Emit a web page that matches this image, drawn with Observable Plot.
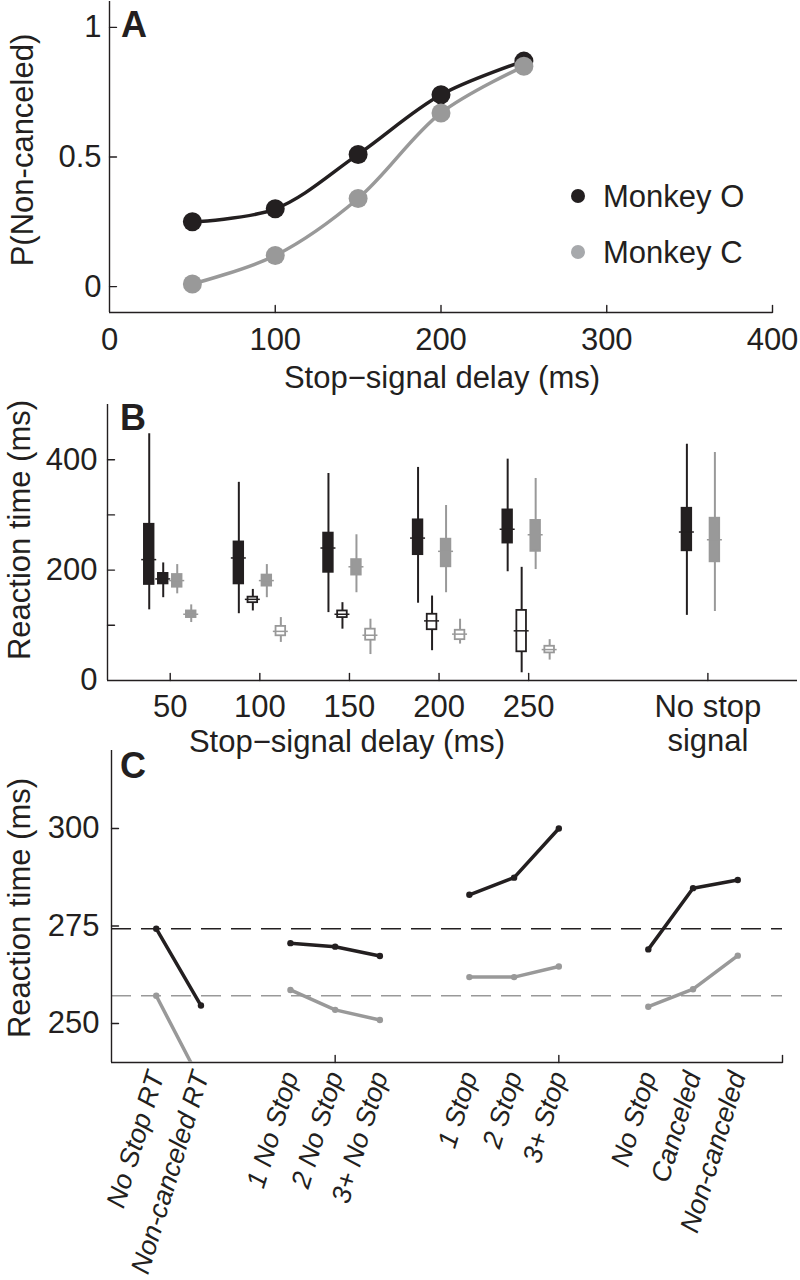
<!DOCTYPE html>
<html><head><meta charset="utf-8">
<script src="https://cdn.jsdelivr.net/npm/d3@7"></script>
<script src="https://cdn.jsdelivr.net/npm/@observablehq/plot@0.6"></script>
<style>
body{margin:0;background:#fff;}
#fig{position:relative;width:800px;height:1280px;overflow:hidden;font-family:"Liberation Sans",Arial,Helvetica,sans-serif;color:#231f20;background:#fff;}
#fig svg{position:absolute;left:0;overflow:visible;}
.lbl{position:absolute;white-space:nowrap;font-size:31px;line-height:1;transform:translate(-50%,-50%);}
.rot{transform:translate(-50%,-50%) rotate(-90deg);}
.letter{font-weight:bold;font-size:36px;}
.leg{position:absolute;font-size:31px;line-height:1;white-space:nowrap;transform:translateY(-50%);}
.legdot{position:absolute;width:14px;height:14px;border-radius:50%;transform:translate(-50%,-50%);}
</style></head><body><div id="fig"></div>
<script>
// ---------------- Panel A data ----------------
const ssdA = [50, 100, 150, 200, 250];
const pNonCanceledO = [0.25, 0.30, 0.51, 0.74, 0.87];
const pNonCanceledC = [0.01, 0.12, 0.34, 0.67, 0.85];
const monkeys = ["Monkey O", "Monkey C"];
const xTicksA = [0, 100, 200, 300, 400];
const yTicksA = [0, 0.5, 1];

// ---------------- Panel B data ----------------
const groupsB = ["50", "100", "150", "200", "250", "", "No stop\nsignal"]; // "" = empty slot
// [low whisker, q1, median, q3, high whisker] in ms (null = no box)
const rtO_1 = [[128,174,219,283,447],[121,175,222,251,359],[123,196,240,267,375],[140,228,258,291,386],[197,249,274,309,401],null,[118,235,269,312,428]];
const rtO_2 = [[150,175,184,194,213],[126,141,147,151,165],[93,114,120,126,141],[54,92,108,120,153],[14,52,90,127,205],null,null];
const rtC_1 = [[157,169,181,192,210],[150,171,181,191,210],[159,191,206,219,264],[159,206,234,256,317],[201,234,264,290,366],null,[125,215,255,294,413]];
const rtC_2 = [[105,114,120,126,137],[69,81,89,98,114],[47,73,82,93,111],[66,74,84,91,111],[37,50,56,62,74],null,null];
const solidGroupsB = ["50"];
const yTicksB = [100, 200, 300, 400];
const yTickLabelsB = [0, 200, 400];

// ---------------- Panel C data ----------------
const groupsC = [
  ["No Stop RT", "Non-canceled RT"],
  ["1 No Stop", "2 No Stop", "3+ No Stop"],
  ["1 Stop", "2 Stop", "3+ Stop"],
  ["No Stop", "Canceled", "Non-canceled"]
];
const rtMonkeyO = [[274.3, 254.6], [270.6, 269.7, 267.3], [283.0, 287.4, 300.0], [269.0, 284.7, 286.8]];
const rtMonkeyC = [[257.1, 235.0], [258.6, 253.5, 250.9], [261.9, 261.9, 264.6], [254.3, 258.8, 267.4]];
const baselineO = 274.3;
const baselineC = 257.1;
const yTicksC = [250, 275, 300];
const xTicksC = [5, 10, 15];

// ---------------- styling ----------------
const ink = "#231f20";
const grey = "#999999";
const FONT = '"Liberation Sans", Arial, Helvetica, sans-serif';
const fig = document.getElementById("fig");
const tickShape = {draw(ctx, l) { ctx.moveTo(0, 0); ctx.lineTo(0, -l); }};
const inwardX = (t) => Plot.vector(t, {x: d => d, frameAnchor: "bottom", rotate: 0, length: 7, anchor: "start", shape: tickShape, stroke: ink, strokeWidth: 1.4});
const inwardY = (t) => Plot.vector(t, {y: d => d, frameAnchor: "left", rotate: 90, length: 7, anchor: "start", shape: tickShape, stroke: ink, strokeWidth: 1.4});
const baseStyle = {fontFamily: FONT, fontSize: "31px", color: ink, background: "transparent", overflow: "visible"};

function place(svg, top) { svg.style.top = top + "px"; fig.appendChild(svg); }
function label(text, x, y, cls = "") {
  const d = document.createElement("div");
  d.className = "lbl " + cls; d.textContent = text;
  d.style.left = x + "px"; d.style.top = y + "px";
  fig.appendChild(d);
}

// ---------------- Panel A ----------------
const rowsA = ssdA.flatMap((s, i) => [
  {ssd: s, p: pNonCanceledO[i], monkey: monkeys[0]},
  {ssd: s, p: pNonCanceledC[i], monkey: monkeys[1]}
]);
const xDomA = [0, 400], yDomA = [-0.1, 1.1];
const plotA = Plot.plot({
  width: 800, height: 400, marginLeft: 109, marginRight: 28, marginTop: 1, marginBottom: 88,
  style: baseStyle,
  x: {domain: xDomA}, y: {domain: yDomA},
  color: {domain: monkeys, range: [ink, grey]},
  marks: [
    Plot.ruleX([xDomA[0]], {stroke: ink, strokeWidth: 1.4}),
    Plot.ruleY([yDomA[0]], {stroke: ink, strokeWidth: 1.4}),
    Plot.axisX({ticks: xTicksA, tickSize: 0, tickPadding: 15, tickFormat: d => String(d), label: null}),
    Plot.axisY({ticks: yTicksA, tickSize: 0, tickPadding: 8, tickFormat: d => String(d), label: null}),
    inwardX(xTicksA.filter(d => d > xDomA[0])),
    inwardY(yTicksA),
    Plot.line(rowsA, {x: "ssd", y: "p", z: "monkey", stroke: "monkey", strokeWidth: 3.5, curve: "catmull-rom"}),
    Plot.dot(rowsA, {x: "ssd", y: "p", fill: "monkey", r: 9.5})
  ]
});
place(plotA, 0);

// ---------------- Panel B ----------------
function boxRows(stats, alwaysSolid) {
  return stats.map((s, i) => s && {
    pos: i + 1, group: groupsB[i], lo: s[0], q1: s[1], med: s[2], q3: s[3], hi: s[4],
    solid: alwaysSolid || solidGroupsB.includes(groupsB[i])
  }).filter(Boolean);
}
function boxMarks(rows, color, dx) {
  return [
    Plot.ruleX(rows, {x: "pos", y1: "lo", y2: "hi", dx, stroke: color, strokeWidth: 2}),
    Plot.rect(rows, {x1: "pos", x2: "pos", y1: "q1", y2: "q3", dx, insetLeft: -4.8, insetRight: -4.8,
      fill: d => d.solid ? color : "white", stroke: color, strokeWidth: 1.8}),
    Plot.ruleY(rows, {y: "med", x1: "pos", x2: "pos", dx, insetLeft: -7.5, insetRight: -7.5, stroke: color, strokeWidth: 1.5})
  ];
}
const tickPosB = groupsB.map((g, i) => g ? i + 1 : null).filter(d => d !== null);
const xDomB = [0.3, 8], yDomB = [0, 500];
const plotB = Plot.plot({
  width: 800, height: 385, marginLeft: 107, marginRight: 3, marginTop: 9, marginBottom: 100,
  style: baseStyle,
  x: {domain: xDomB}, y: {domain: yDomB},
  marks: [
    Plot.ruleX([xDomB[0]], {stroke: ink, strokeWidth: 1.4}),
    Plot.ruleY([yDomB[0]], {stroke: ink, strokeWidth: 1.4}),
    Plot.axisX({ticks: tickPosB, tickSize: 0, tickPadding: 13, tickFormat: p => groupsB[p - 1], lineHeight: 1.08, label: null}),
    Plot.axisY({ticks: yTickLabelsB, tickSize: 0, tickPadding: 10, tickFormat: d => String(d), label: null}),
    inwardX(tickPosB),
    inwardY(yTicksB),
    ...boxMarks(boxRows(rtO_1, true), ink, -21),
    ...boxMarks(boxRows(rtO_2, false), ink, -7),
    ...boxMarks(boxRows(rtC_1, true), grey, 7),
    ...boxMarks(boxRows(rtC_2, false), grey, 21)
  ]
});
place(plotB, 395);

// ---------------- Panel C ----------------
const rowsC = [];
const labelAtC = new Map();
let p = 0;
groupsC.forEach((g, gi) => {
  p += 1;
  g.forEach((lab, j) => {
    labelAtC.set(p, lab);
    rowsC.push({pos: p, label: lab, rt: rtMonkeyO[gi][j], monkey: monkeys[0], key: "O" + gi});
    rowsC.push({pos: p, label: lab, rt: rtMonkeyC[gi][j], monkey: monkeys[1], key: "C" + gi});
    p += 1;
  });
});
const xDomC = [0, p], yDomC = [240, 320];
const plotC = Plot.plot({
  width: 800, height: 535, marginLeft: 111, marginRight: 18, marginTop: 5, marginBottom: 218,
  style: baseStyle,
  x: {domain: xDomC}, y: {domain: yDomC},
  color: {domain: monkeys, range: [ink, grey]},
  marks: [
    Plot.ruleY([baselineO], {stroke: ink, strokeWidth: 1.4, strokeDasharray: "20,10"}),
    Plot.ruleY([baselineC], {stroke: grey, strokeWidth: 1.4, strokeDasharray: "20,10"}),
    Plot.ruleX([xDomC[0]], {stroke: ink, strokeWidth: 1.4}),
    Plot.ruleY([yDomC[0]], {stroke: ink, strokeWidth: 1.4}),
    Plot.axisX({ticks: [...labelAtC.keys()], tickSize: 0, tickPadding: 10, tickRotate: -73,
      tickFormat: q => labelAtC.get(q), fontSize: 27, fontStyle: "italic", label: null}),
    Plot.axisY({ticks: yTicksC, tickSize: 0, tickPadding: 12, tickFormat: d => String(d), label: null}),
    inwardX(xTicksC),
    inwardY(yTicksC),
    Plot.line(rowsC, {x: "pos", y: "rt", z: "key", stroke: "monkey", strokeWidth: 3.5, clip: true}),
    Plot.dot(rowsC, {x: "pos", y: "rt", fill: "monkey", r: 3.2, clip: true})
  ]
});
place(plotC, 745);

// ---------------- text labels ----------------
label("A", 134, 25, "letter");
label("B", 133, 418, "letter");
label("C", 133, 766, "letter");
label("P(Non-canceled)", 22, 150, "rot");
label("Stop\u2212signal delay (ms)", 442, 377);
label("Reaction time (ms)", 19, 530, "rot");
label("Stop\u2212signal delay (ms)", 347, 741);
label("Reaction time (ms)", 19, 908, "rot");

// legend (panel A)
[[monkeys[0], ink, 196], [monkeys[1], "#a7a9ac", 252]].forEach(([name, col, y]) => {
  const dot = document.createElement("div");
  dot.className = "legdot"; dot.style.background = col;
  dot.style.left = "578px"; dot.style.top = y + "px";
  fig.appendChild(dot);
  const t = document.createElement("div");
  t.className = "leg"; t.textContent = name;
  t.style.left = "603px"; t.style.top = y + "px";
  fig.appendChild(t);
});
</script>
</body></html>
